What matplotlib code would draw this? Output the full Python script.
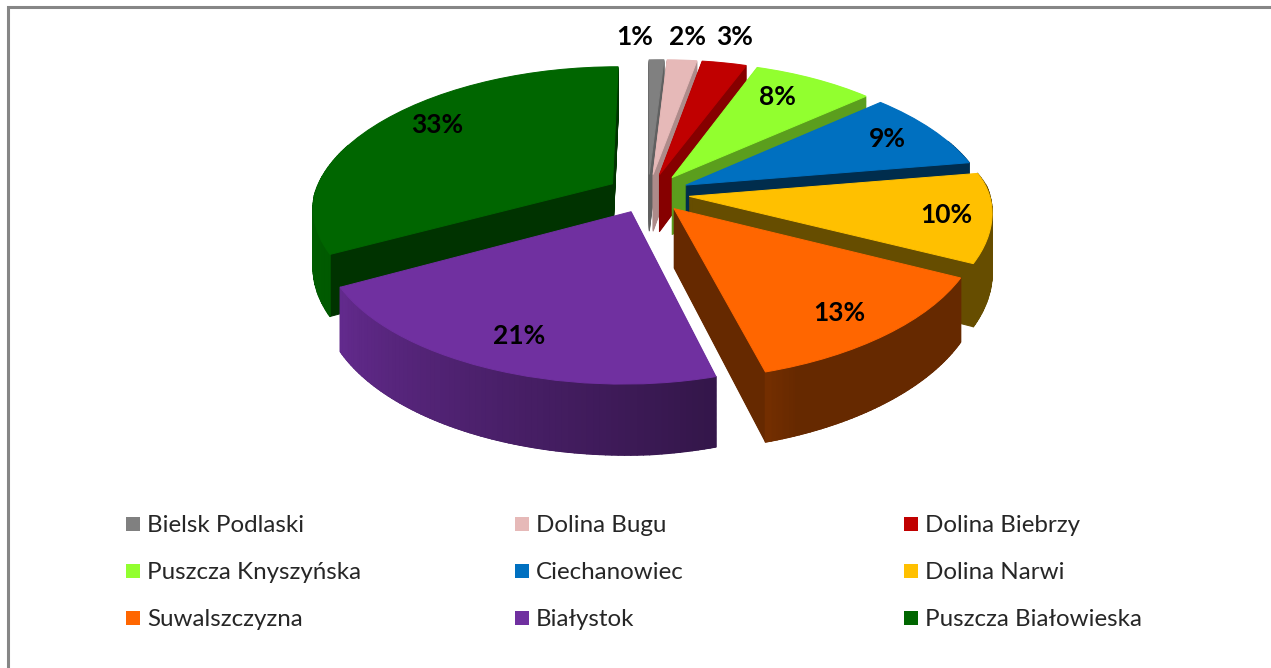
import numpy as np
import matplotlib
matplotlib.use("Agg")
import matplotlib.pyplot as plt
from matplotlib.transforms import Transform
from matplotlib.patches import Rectangle
from matplotlib.collections import PolyCollection
from matplotlib.colors import to_rgb

plt.rcParams['font.family'] = ['Lato', 'DejaVu Sans']

# --- data ---
regions = ["Bielsk Podlaski", "Dolina Bugu", "Dolina Biebrzy",
           "Puszcza Knyszyńska", "Ciechanowiec", "Dolina Narwi",
           "Suwalszczyzna", "Białystok", "Puszcza Białowieska"]
shares = [1, 2, 3, 8, 9, 10, 13, 21, 33]
colors = ["#808080", "#E6B9B8", "#C00000", "#92FF2F", "#0070C0",
          "#FFC000", "#FF6600", "#7030A0", "#006600"]
cut_shade = [0.75, 0.75, 0.7, 0.62, 0.4, 0.4, 0.4, 0.55, 0.5]
paint_order = [0, 1, 2, 8, 3, 4, 5, 7, 6]
label_xy = [(635, 36), (688, 36), (735, 36), (777, 96), (887, 138),
            (946, 214), (839, 312), (519, 335), (437, 124)]

# --- layout ---
W, H = 1271, 668
CX, CY, RX, RY, PERSP, DEPTH, EXPLODE = 648, 193.5, 298, 138.6, 0.16, 58, 0.14
TILT = 0.02


class Camera(Transform):
    input_dims = output_dims = 2
    is_separable = False
    has_inverse = False

    def __init__(self, drop):
        super().__init__()
        self.drop = drop

    def transform_non_affine(self, values):
        v = np.asarray(values, dtype=float)
        x, y = v[:, 0], v[:, 1]
        s = 1.0 / (1.0 + PERSP * y)
        k = np.where(x > 0, np.where(y > 0, 0.22, 0.14), np.where(y > 0, 0.19, 0.16))
        sx = 1.0 / (1.0 + k * y)
        return np.column_stack((CX + RX * x * sx,
                                CY - RY * y * s + self.drop * s
                                - TILT * RX * np.clip(x, 0, None) * sx))


def shade(c, f):
    return tuple(np.clip(np.array(to_rgb(c)) * f, 0, 1))


fig = plt.figure(figsize=(W / 100, H / 100), dpi=100, facecolor="white")
ax = fig.add_axes([0, 0, 1, 1])

drops = np.linspace(DEPTH, 0, 60)
for i, drop in enumerate(drops):
    last = i == len(drops) - 1
    cols = colors if last else [shade(c, f) for c, f in zip(colors, cut_shade)]
    wedges, _ = ax.pie(shares, colors=cols, startangle=90, counterclock=False,
                       explode=[EXPLODE] * len(shares))
    for k, w in enumerate(wedges):
        w.set_transform(Camera(drop) + ax.transData)
        w.set_edgecolor(cols[k])
        w.set_linewidth(0.7)
        w.set_zorder(paint_order.index(k) + (0.6 if last else 0.1))

# outer rim with angle-dependent shading
edges = np.cumsum([0] + shares) / sum(shares) * 360
top_cam, bot_cam = Camera(0), Camera(DEPTH)
for k, c in enumerate(colors):
    a0, a1 = edges[k], edges[k + 1]
    mid = np.radians((a0 + a1) / 2)
    ths = np.linspace(a0, a1, max(int(a1 - a0) + 2, 3))
    polys, fc = [], []
    for t0, t1 in zip(ths[:-1], ths[1:]):
        if np.cos(np.radians((t0 + t1) / 2)) > 0.3:
            continue
        r = np.radians([t0, t1])
        pts = np.column_stack((EXPLODE * np.sin(mid) + np.sin(r),
                               EXPLODE * np.cos(mid) + np.cos(r)))
        polys.append(np.vstack((top_cam.transform_non_affine(pts),
                                bot_cam.transform_non_affine(pts)[::-1])))
        f = np.interp((t0 + t1) / 2, [90, 160, 166, 241, 275],
                      [0.40, 0.40, 0.46, 0.88, 0.92])
        fc.append(shade(c, f))
    if polys:
        ax.add_collection(PolyCollection(polys, facecolors=fc, edgecolors=fc,
                                         linewidths=1.0,
                                         zorder=paint_order.index(k) + 0.5))

ax.set_aspect("auto")
ax.set_xlim(0, W)
ax.set_ylim(H, 0)
ax.set_axis_off()

# percentage labels
for v, (x, y) in zip(shares, label_xy):
    ax.text(x, y + 1, f"{v}%", ha="center", va="center", fontsize=19,
            fontweight="bold", color="black", zorder=20)

# legend
col_x = [126, 515, 904]
row_y = [524, 571, 618]
for i, (name, c) in enumerate(zip(regions, colors)):
    x, y = col_x[i % 3], row_y[i // 3]
    ax.add_patch(Rectangle((x, y - 7), 14, 14, facecolor=c, edgecolor="none", zorder=20))
    ax.text(x + 21, y + 1.5, name, ha="left", va="center", fontsize=17.4,
            color="#262626", zorder=20)

# chart-area frame
ax.plot([8, 8, W], [H, 7, 7], color="#868686", lw=2.2, zorder=30,
        solid_joinstyle="miter", clip_on=False)

fig.savefig("out.png", dpi=100, facecolor="white")
